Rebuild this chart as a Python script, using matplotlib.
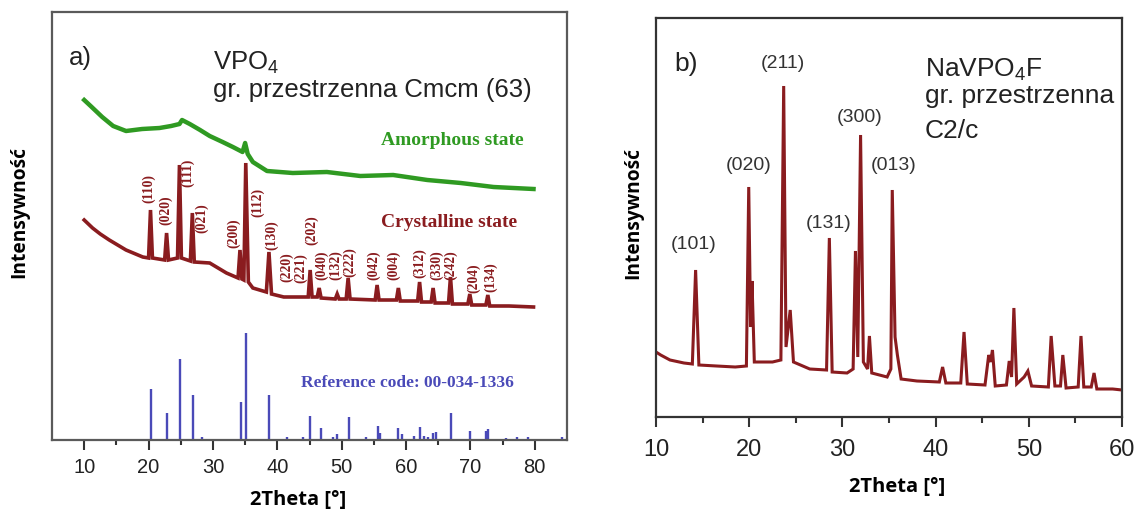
import matplotlib
matplotlib.use("Agg")
import matplotlib.pyplot as plt

plt.rcParams['font.family'] = ['Liberation Sans', 'DejaVu Sans']
plt.rcParams['mathtext.default'] = 'regular'

# ---------------- Panel a) VPO4 ----------------
amorph_x = [10.0, 11.0, 12.8, 14.5, 16.5, 19.0, 21.7, 23.5, 24.8, 25.2, 26.4, 28.0, 29.5,
            31.5, 33.1, 34.6, 35.0, 35.4, 36.2, 38.4, 42.4, 47.7, 52.9, 58.0, 63.3,
            68.5, 73.6, 79.8]
amorph_y = [340, 334, 323, 314, 309, 311, 312, 314, 316, 320, 316, 310, 304,
            298, 293, 288, 297, 286, 278, 269, 267, 268, 264, 265, 260,
            257, 253, 251]

cryst_x = [10.0, 11.3, 12.5, 13.9, 16.5, 19.1, 20.0, 20.3, 20.6, 22.5, 22.8, 23.1,
           24.5, 24.8, 25.1, 26.5, 26.8, 27.1, 29.5, 32.1, 33.9, 34.2, 34.5, 34.8,
           35.1, 35.5, 36.2, 38.3, 38.7, 39.1, 41.0, 44.8, 45.1, 45.4, 46.2, 46.5,
           46.8, 49.0, 49.3, 49.6, 50.7, 51.0, 51.3, 55.2, 55.5, 55.8, 58.5, 58.8,
           59.1, 61.8, 62.1, 62.4, 63.9, 64.2, 64.5, 66.6, 66.9, 67.2, 69.6, 69.9,
           70.2, 72.4, 72.7, 73.0, 76.0, 79.8]
cryst_y = [220, 212, 206, 200, 190, 183, 182, 230, 182, 180, 207, 180,
           182, 275, 182, 179, 227, 178, 177, 167, 162, 190, 161, 160,
           277, 158, 152, 148, 188, 146, 143, 143, 170, 143, 143, 152,
           142, 141, 146, 141, 141, 162, 141, 140, 155, 140, 140, 152,
           139, 139, 158, 138, 138, 152, 137, 137, 163, 136, 136, 146,
           135, 135, 145, 134, 134, 133]

ref_pos = [20.4, 22.8, 24.9, 26.9, 28.3, 34.3, 35.2, 38.7, 41.5, 44.0, 45.1, 46.8,
           48.6, 49.3, 51.2, 53.8, 55.6, 56.0, 58.8, 59.3, 61.2, 62.1, 62.8, 63.4,
           64.2, 64.6, 67.0, 69.9, 72.4, 72.8, 75.5, 77.2, 79.0, 84.3]
ref_int = [51, 27, 81, 45, 3, 38, 107, 45, 3, 3, 24, 12,
           3, 6, 23, 3, 14, 7, 12, 6, 4, 13, 4, 3,
           7, 8, 27, 9, 9, 11, 2, 3, 3, 3]

hkl_a = ['(110)', '(020)', '(111)', '(021)', '(200)', '(112)', '(130)', '(220)', '(221)',
         '(202)', '(040)', '(132)', '(222)', '(042)', '(004)', '(312)', '(330)', '(242)',
         '(204)', '(134)']
hkl_a_x = [19.98, 22.63, 26.06, 28.24, 33.23, 36.97, 39.15, 41.5, 43.6,
           45.4, 46.9, 49.13, 51.3, 54.9, 58.0, 62.07, 64.75, 66.85, 70.5, 73.14]
hkl_a_y = [252, 230, 267, 222, 207, 238, 205, 173, 172,
           210, 175, 175, 178, 175, 175, 177, 175, 175, 162, 163]

ticks_a = [10, 20, 30, 40, 50, 60, 70, 80]

# ---------------- Panel b) NaVPO4F ----------------
nav_x = [10.0, 10.5, 11.5, 13.0, 13.9, 14.25, 14.6, 16.5, 18.5, 19.7, 19.95, 20.15,
         20.3, 20.55, 22.5, 23.4, 23.7, 23.95, 24.4, 24.75, 26.5, 28.3, 28.6, 28.9,
         30.5, 31.15, 31.4, 31.65, 31.95, 32.25, 32.7, 32.9, 33.15, 34.8, 35.2, 35.35,
         35.65, 35.9, 36.3, 38.0, 40.4, 40.75, 41.1, 42.7, 43.05, 43.4, 45.3, 45.7,
         45.9, 46.1, 46.4, 47.6, 47.9, 48.15, 48.4, 48.7, 49.5, 49.9, 50.3, 52.1,
         52.4, 52.8, 53.4, 53.65, 54.0, 55.3, 55.6, 55.9, 56.7, 57.0, 57.3, 59.0, 60.0]
nav_y = [65, 62, 57, 54, 53, 147, 52, 51, 50, 51, 230, 90,
         136, 55, 55, 57, 331, 70, 107, 55, 48, 47, 179, 45,
         44, 48, 166, 60, 282, 55, 48, 81, 44, 40, 48, 227,
         80, 62, 38, 36, 35, 50, 34, 34, 85, 33, 32, 62,
         55, 67, 31, 32, 56, 40, 109, 33, 40, 46, 31, 30,
         81, 31, 31, 62, 29, 30, 81, 30, 30, 44, 28, 28, 27]

hkl_b = ['(101)', '(020)', '(211)', '(131)', '(300)', '(013)']
hkl_b_x = [14.08, 19.98, 23.63, 28.56, 31.89, 35.48]
hkl_b_y = [173, 251.5, 354, 193.5, 300, 251.5]

ticks_b = [10, 20, 30, 40, 50, 60]

GREEN = '#2f9a22'
DRED = '#8a1c1f'
BLUE = '#4a4ab8'

fig = plt.figure(figsize=(11.36, 5.11), dpi=100)
W, H = 1136.0, 511.0

def box(x0, y0, x1, y1):
    return [x0 / W, 1 - y1 / H, (x1 - x0) / W, (y1 - y0) / H]

# ---- left axes ----
axa = fig.add_axes(box(52, 12, 567, 440))
axa.plot(amorph_x, amorph_y, color=GREEN, lw=3.2, solid_joinstyle='round')
axa.plot(cryst_x, cryst_y, color=DRED, lw=2.6, solid_joinstyle='miter')
axa.vlines(ref_pos, 0, ref_int, color=BLUE, lw=1.7)
axa.set_xlim(5, 85)
axa.set_ylim(0, 428)
axa.set_xticks(ticks_a)
axa.set_xticks([15, 25, 35, 45, 55, 65, 75], minor=True)
axa.set_yticks([])
for s in axa.spines.values():
    s.set_color('#5a5a5a')
    s.set_linewidth(1.6)
axa.tick_params(axis='x', which='major', direction='out', length=7, width=1.5,
                color='#333333', labelsize=14.5, labelcolor='#222222', pad=6)
axa.tick_params(axis='x', which='minor', direction='out', length=3.5, width=1.5,
                color='#333333')

axa.text(7.66, 382, 'a)', fontsize=18.5, ha='left', va='center', color='#222222')
axa.text(29.96, 370, 'VPO$_4$', fontsize=18.5, ha='left', va='baseline', color='#222222')
axa.text(29.96, 343, 'gr. przestrzenna Cmcm (63)', fontsize=18.5, ha='left',
         va='baseline', color='#222222')
serif_b = dict(family=['Liberation Serif', 'DejaVu Serif'], fontweight='bold')
axa.text(67.2, 300, 'Amorphous state', color=GREEN, fontsize=14, ha='center',
         va='center', **serif_b)
axa.text(66.75, 218, 'Crystalline state', color=DRED, fontsize=14, ha='center',
         va='center', **serif_b)
axa.text(60.2, 57, 'Reference code: 00-034-1336', color=BLUE, fontsize=12.5,
         ha='center', va='center', **serif_b)
for lab, x, y in zip(hkl_a, hkl_a_x, hkl_a_y):
    axa.text(x, y, lab, rotation=90, color=DRED, fontsize=9.8, ha='center',
             va='center', **serif_b)

# ---- right axes ----
axb = fig.add_axes(box(656, 18, 1122, 417))
axb.plot(nav_x, nav_y, color=DRED, lw=2.2, solid_joinstyle='miter')
axb.set_xlim(10, 60)
axb.set_ylim(0, 399)
axb.set_xticks(ticks_b)
axb.set_xticks([15, 25, 35, 45, 55], minor=True)
axb.set_yticks([])
for s in axb.spines.values():
    s.set_color('#333333')
    s.set_linewidth(1.6)
axb.tick_params(axis='x', which='major', direction='out', length=7, width=1.5,
                color='#333333', labelsize=17, labelcolor='#222222', pad=9)
axb.tick_params(axis='x', which='minor', direction='out', length=4.5, width=1.5,
                color='#333333')

axb.text(11.93, 353, 'b)', fontsize=19, ha='left', va='center', color='#222222')
axb.text(38.86, 340, 'NaVPO$_4$F', fontsize=19, ha='left', va='baseline', color='#222222')
axb.text(38.86, 314, 'gr. przestrzenna', fontsize=19, ha='left', va='baseline',
         color='#222222')
axb.text(38.86, 279, 'C2/c', fontsize=19, ha='left', va='baseline', color='#222222')
for lab, x, y in zip(hkl_b, hkl_b_x, hkl_b_y):
    axb.text(x, y, lab, color='#333333', fontsize=14, ha='center', va='center')

# ---- axis labels ----
lab_font = dict(family=['Open Sans', 'DejaVu Sans'], fontweight='bold', color='black')
fig.text(19.5 / W, 1 - 212 / H, 'Intensywność', rotation=90, ha='center', va='center',
         fontsize=13.8, **lab_font)
fig.text(633 / W, 1 - 213 / H, 'Intensywność', rotation=90, ha='center', va='center',
         fontsize=13.8, **lab_font)
fig.text(298 / W, 1 - 500 / H, '2Theta [°]', ha='center', va='center', fontsize=14.5,
         **lab_font)
fig.text(897 / W, 1 - 487 / H, '2Theta [°]', ha='center', va='center', fontsize=14.5,
         **lab_font)

fig.savefig('out.png', dpi=100, facecolor='white')
